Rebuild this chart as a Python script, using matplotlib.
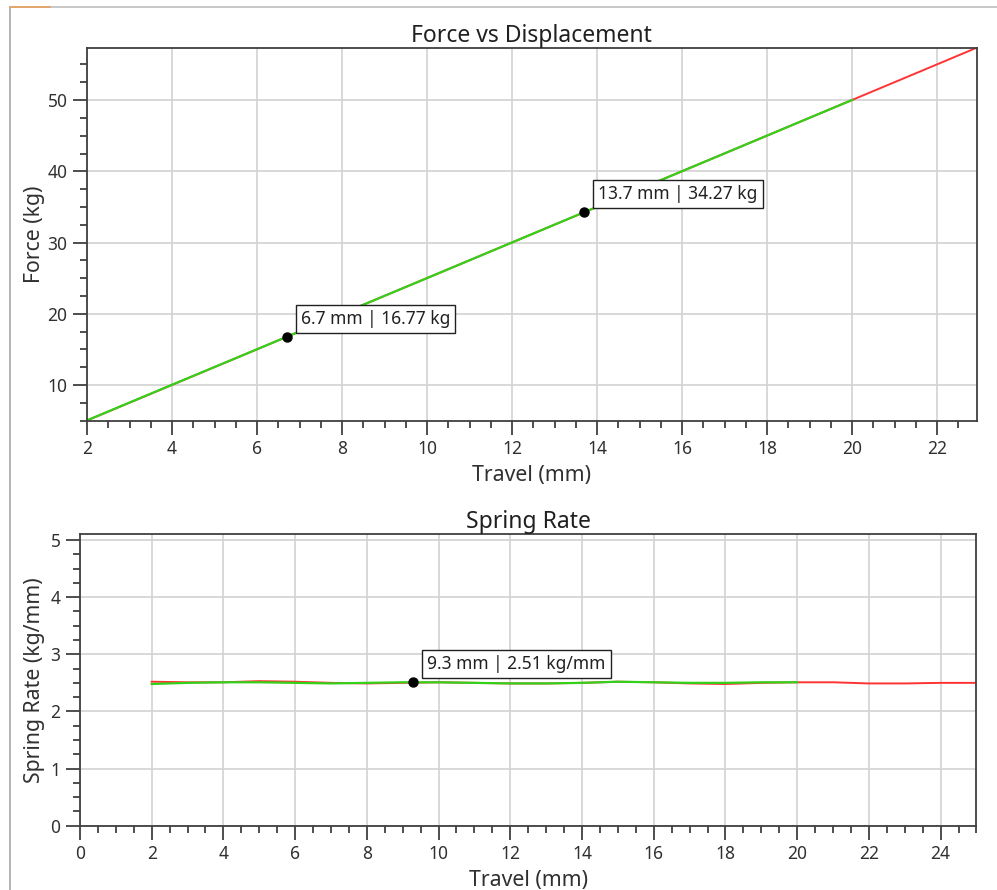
import matplotlib
matplotlib.use("Agg")
import matplotlib.pyplot as plt
from matplotlib.lines import Line2D
from matplotlib.ticker import MultipleLocator

plt.rcParams["font.family"] = ["Noto Sans", "DejaVu Sans"]

# ── data ──────────────────────────────────────────────────────────────────────
force_travel_red = [2.0, 4.0, 6.0, 8.0, 10.0, 12.0, 14.0, 16.0, 18.0, 20.0, 22.0, 22.93]
force_red = [5.03, 10.02, 15.02, 20.03, 25.02, 30.02, 35.02, 40.02, 45.02, 50.02, 55.02, 57.35]
force_travel_green = [2.0, 4.0, 6.0, 8.0, 10.0, 12.0, 14.0, 16.0, 18.0, 20.0]
force_green = [5.05, 10.05, 15.03, 20.03, 25.02, 30.02, 35.02, 40.02, 45.02, 50.02]

rate_travel_red = [2, 3, 4, 5, 6, 7, 8, 9, 10, 11, 12, 13, 14, 15, 16, 17,
                   18, 19, 20, 21, 22, 23, 24, 25]
rate_red = [2.52, 2.51, 2.51, 2.53, 2.52, 2.50, 2.49, 2.50, 2.51, 2.50, 2.49, 2.49,
            2.50, 2.52, 2.51, 2.49, 2.48, 2.50, 2.51, 2.51, 2.49, 2.49, 2.50, 2.50]
rate_travel_green = [2, 3, 4, 5, 6, 7, 8, 9, 10, 11, 12, 13, 14, 15, 16, 17, 18, 19, 20]
rate_green = [2.48, 2.50, 2.51, 2.51, 2.50, 2.49, 2.50, 2.51, 2.51, 2.50, 2.49, 2.49,
              2.50, 2.52, 2.51, 2.50, 2.50, 2.51, 2.51]

force_marks_x = [6.7, 13.7]
force_marks_y = [16.77, 34.27]
force_marks_txt = ["6.7 mm | 16.77 kg", "13.7 mm | 34.27 kg"]
rate_marks_x = [9.3]
rate_marks_y = [2.51]
rate_marks_txt = ["9.3 mm | 2.51 kg/mm"]

RED = "#ff3333"
GREEN = "#33d11a"
AX_COLOR = "#404040"


def style_axes(ax):
    for sp in ax.spines.values():
        sp.set_color(AX_COLOR)
        sp.set_linewidth(1.3)
    ax.tick_params(which="major", length=10, width=1.3, color=AX_COLOR,
                   labelsize=12.5, labelcolor="#303030", pad=4)
    ax.tick_params(which="minor", length=5, width=1.3, color=AX_COLOR)
    ax.grid(which="major", color="#d2d2d2", lw=1.2)
    ax.set_axisbelow(True)


def add_marks(ax, xs, ys, txts):
    ax.plot(xs, ys, "o", color="black", ms=6.5, zorder=5)
    for x, y, t in zip(xs, ys, txts):
        ax.annotate(t, xy=(x, y), xytext=(14, 9), textcoords="offset pixels",
                    ha="left", va="bottom", fontsize=12.5, color="#202020",
                    bbox=dict(boxstyle="square,pad=0.3", fc="white", ec="#202020", lw=1),
                    zorder=6)


fig = plt.figure(figsize=(9.97, 8.90), dpi=100)

# window frame
fig.add_artist(Line2D([10 / 997, 10 / 997], [0, 1 - 7 / 890], transform=fig.transFigure,
                      color="#a8a8a8", lw=1.2))
fig.add_artist(Line2D([10 / 997, 1], [1 - 7 / 890, 1 - 7 / 890], transform=fig.transFigure,
                      color="#bdbdbd", lw=1.2))
fig.add_artist(Line2D([10 / 997, 50 / 997], [1 - 7 / 890, 1 - 7 / 890], transform=fig.transFigure,
                      color="#e8a060", lw=1.2))

# ── Force vs Displacement ─────────────────────────────────────────────────────
ax1 = fig.add_axes([0.0873, 0.5273, 0.8924, 0.4191])
ax1.plot(force_travel_red, force_red, color=RED, lw=1.4)
ax1.plot(force_travel_green, force_green, color=GREEN, lw=1.6)
add_marks(ax1, force_marks_x, force_marks_y, force_marks_txt)
ax1.set_xlim(2, 22.93)
ax1.set_ylim(5.0, 57.35)
ax1.xaxis.set_major_locator(MultipleLocator(2))
ax1.xaxis.set_minor_locator(MultipleLocator(0.5))
ax1.yaxis.set_major_locator(MultipleLocator(10))
ax1.yaxis.set_minor_locator(MultipleLocator(2.5))
style_axes(ax1)
ax1.set_title("Force vs Displacement", fontsize=16.5, color="#202020", pad=3)
ax1.set_xlabel("Travel (mm)", fontsize=15.3, color="#303030", labelpad=5)
ax1.set_ylabel("Force (kg)", fontsize=15.3, color="#303030")
ax1.yaxis.set_label_coords(-0.047, 0.5)

# ── Spring Rate ───────────────────────────────────────────────────────────────
ax2 = fig.add_axes([0.0802, 0.0722, 0.8992, 0.3275])
ax2.plot(rate_travel_red, rate_red, color=RED, lw=1.4)
ax2.plot(rate_travel_green, rate_green, color=GREEN, lw=1.6)
add_marks(ax2, rate_marks_x, rate_marks_y, rate_marks_txt)
ax2.set_xlim(0, 25)
ax2.set_ylim(0, 5.1)
ax2.xaxis.set_major_locator(MultipleLocator(2))
ax2.xaxis.set_minor_locator(MultipleLocator(0.5))
ax2.yaxis.set_major_locator(MultipleLocator(1))
ax2.yaxis.set_minor_locator(MultipleLocator(0.25))
style_axes(ax2)
ax2.set_title("Spring Rate", fontsize=16.5, color="#202020", pad=2)
ax2.set_xlabel("Travel (mm)", fontsize=15.3, color="#303030", labelpad=5)
ax2.set_ylabel("Spring Rate (kg/mm)", fontsize=15.3, color="#303030")
ax2.yaxis.set_label_coords(-0.039, 0.5)

fig.savefig("out.png", dpi=100)
